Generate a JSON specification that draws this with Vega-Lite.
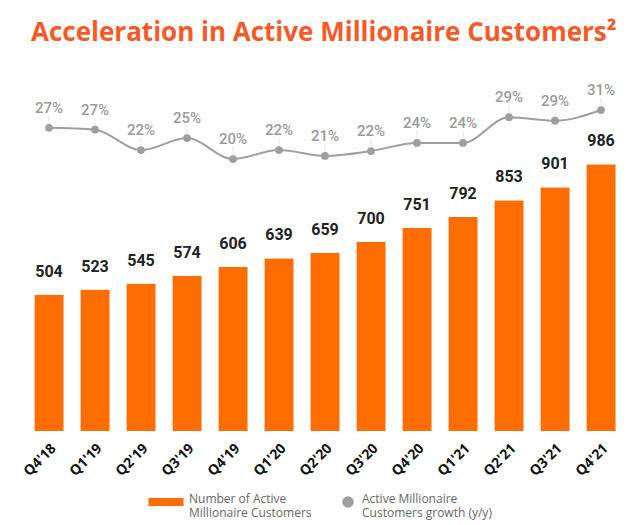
{
  "$schema": "https://vega.github.io/schema/vega-lite/v6.json",
  "width": 598,
  "height": 371,
  "autosize": "none",
  "padding": {"left": 26, "top": 60, "right": 16, "bottom": 94},
  "background": "white",
  "title": {
    "text": "Acceleration in Active Millionaire Customers²",
    "anchor": "start",
    "frame": "group",
    "font": "Open Sans",
    "fontSize": 26,
    "fontWeight": "bold",
    "color": "#F75A28",
    "dx": 5,
    "offset": 14
  },
  "config": {"view": {"stroke": null}},
  "data": {
    "values": [
      {"q": "Q4'18", "customers": 504, "growth": 0.27},
      {"q": "Q1'19", "customers": 523, "growth": 0.266},
      {"q": "Q2'19", "customers": 545, "growth": 0.22},
      {"q": "Q3'19", "customers": 574, "growth": 0.247},
      {"q": "Q4'19", "customers": 606, "growth": 0.2},
      {"q": "Q1'20", "customers": 639, "growth": 0.22},
      {"q": "Q2'20", "customers": 659, "growth": 0.207},
      {"q": "Q3'20", "customers": 700, "growth": 0.218},
      {"q": "Q4'20", "customers": 751, "growth": 0.236},
      {"q": "Q1'21", "customers": 792, "growth": 0.236},
      {"q": "Q2'21", "customers": 853, "growth": 0.294},
      {"q": "Q3'21", "customers": 901, "growth": 0.286},
      {"q": "Q4'21", "customers": 986, "growth": 0.31}
    ]
  },
  "encoding": {
    "x": {
      "field": "q",
      "type": "nominal",
      "sort": null,
      "scale": {"paddingInner": 0.36, "paddingOuter": 0.18},
      "axis": {
        "title": null,
        "labelAngle": -45,
        "labelFont": "Open Sans",
        "labelFontSize": 14,
        "labelFontWeight": "bold",
        "labelColor": "#111111",
        "labelPadding": 10,
        "labelOffset": 0,
        "domain": false,
        "ticks": false,
        "grid": false
      }
    }
  },
  "layer": [
    {
      "layer": [
        {
          "mark": {"type": "bar", "cornerRadiusEnd": 1},
          "encoding": {
            "y": {"field": "customers", "type": "quantitative", "scale": {"domain": [0, 1371.5], "nice": false, "zero": true}, "axis": null},
            "color": {
              "datum": "Number of Active Millionaire Customers",
              "type": "nominal",
              "scale": {
                "domain": ["Number of Active Millionaire Customers", "Active Millionaire Customers growth (y/y)"],
                "range": ["#FF6D00", "#9E9E9E"]
              },
              "legend": {
                "orient": "none",
                "legendX": 134,
                "legendY": 436,
                "direction": "horizontal",
                "columns": 2,
                "title": null,
                "labelFont": "Open Sans",
                "labelFontSize": 12,
                "labelColor": "#666666",
                "labelOffset": 17,
                "columnPadding": 30,
                "symbolSize": 1225,
                "symbolStrokeWidth": 0,
                "labelExpr": "datum.label == 'Number of Active Millionaire Customers' ? ['Number of Active', 'Millionaire Customers'] : ['Active Millionaire', 'Customers growth (y/y)']",
                "symbolType": "M-1,-0.23H1V0.23H-1Z",
                "encode": {
                  "symbols": {
                    "update": {
                      "shape": {"signal": "datum.value == 'Number of Active Millionaire Customers' ? 'M-1,-0.23H1V0.23H-1Z' : 'circle'"},
                      "size": {"signal": "datum.value == 'Number of Active Millionaire Customers' ? 1225 : 133"},
                      "fill": {"signal": "datum.value == 'Number of Active Millionaire Customers' ? '#F4572F' : '#CCCCCC'"},
                      "opacity": {"value": 1}
                    }
                  },
                  "labels": {
                    "update": {
                      "dy": {"value": -3},
                      "dx": {"signal": "datum.value == 'Number of Active Millionaire Customers' ? 0 : -9"}
                    }
                  }
                }
              }
            }
          }
        },
        {
          "mark": {"type": "text", "font": "Roboto", "fontSize": 16, "fontWeight": "bold", "color": "#222222", "baseline": "middle", "dy": -23},
          "encoding": {
            "y": {"field": "customers", "type": "quantitative", "scale": {"domain": [0, 1371.5], "nice": false, "zero": true}, "axis": null},
            "text": {"field": "customers", "type": "quantitative"}
          }
        }
      ]
    },
    {
      "layer": [
        {
          "mark": {"type": "rule", "color": "#E4E4E4", "strokeWidth": 1, "y2Offset": -12},
          "encoding": {
            "y": {"field": "growth", "type": "quantitative", "scale": {"domain": [-0.4112, 0.4225], "nice": false, "zero": false}, "axis": null},
            "y2": {"field": "growth"}
          }
        },
        {
          "mark": {"type": "line", "color": "#9E9E9E", "strokeWidth": 2, "interpolate": "monotone"},
          "encoding": {
            "y": {"field": "growth", "type": "quantitative", "scale": {"domain": [-0.4112, 0.4225], "nice": false, "zero": false}, "axis": null}
          }
        },
        {
          "mark": {"type": "point", "filled": true, "size": 60, "opacity": 1},
          "encoding": {
            "y": {"field": "growth", "type": "quantitative", "scale": {"domain": [-0.4112, 0.4225], "nice": false, "zero": false}, "axis": null},
            "color": {"datum": "Active Millionaire Customers growth (y/y)", "type": "nominal"}
          }
        },
        {
          "mark": {"type": "text", "font": "Roboto", "fontSize": 15, "fontWeight": 500, "color": "#9A9A9A", "baseline": "middle", "dy": -20},
          "encoding": {
            "y": {"field": "growth", "type": "quantitative", "scale": {"domain": [-0.4112, 0.4225], "nice": false, "zero": false}, "axis": null},
            "text": {"field": "growth", "type": "quantitative", "format": ".0%"}
          }
        }
      ]
    }
  ],
  "resolve": {"scale": {"y": "independent"}}
}
